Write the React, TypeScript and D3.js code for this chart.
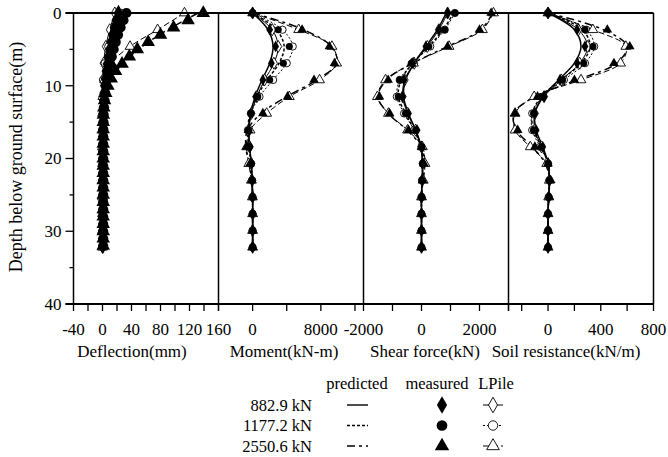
import * as d3 from "d3";

// load cases
const loads = ["882.9 kN", "1177.2 kN", "2550.6 kN"];

// depths (m)
const profileDepth = [0, 2.3, 4.6, 6.9, 9.2, 11.5, 13.8, 16.1, 18.4, 20.7, 23, 25.3, 27.6, 29.9, 32.2];
const gaugeDepth = [0, 1, 2, 3, 4, 5, 6, 7, 8, 9, 10, 11, 12, 13, 14, 15, 16, 17, 18, 19, 20, 21, 22, 23, 24, 25, 26, 27, 28, 29, 30, 31, 32];

// deflection (mm)
const deflPred = [
  [21, 14, 9, 5, 2.5, 1, 0.5, 0.3, 0.2, 0.2, 0.2, 0.2, 0.2, 0.2, 0.2],
  [31, 21, 13, 7, 3.5, 1.5, 0.6, 0.3, 0.2, 0.2, 0.2, 0.2, 0.2, 0.2, 0.2],
  [132, 90, 55, 28, 12, 4.5, 1.5, 0.5, 0.2, 0.2, 0.2, 0.2, 0.2, 0.2, 0.2],
];
const deflLPile = [
  [17, 10, 4.5, 1.5, 0.3, 0, 0, 0, 0, 0, 0, 0, 0, 0, 0],
  [26, 16, 8, 3, 0.8, 0.1, 0, 0, 0, 0, 0, 0, 0, 0, 0],
  [113, 76, 38, 12, 3, 0.5, 0, 0, 0, 0, 0, 0, 0, 0, 0],
];
const deflMeas = [
  [22, 19, 16.5, 14, 12, 10, 8.3, 6.7, 5.3, 4.1, 3.1, 2.3, 1.7, 1.2, 0.9, 0.7, 0.6, 0.5, 0.5, 0.5, 0.5, 0.5, 0.5, 0.5, 0.5, 0.5, 0.5, 0.5, 0.5, 0.5, 0.5, 0.5, 0.5],
  [33, 29, 25, 21.5, 18.3, 15.4, 12.8, 10.5, 8.4, 6.6, 5.1, 3.9, 2.9, 2.2, 1.7, 1.4, 1.2, 1.1, 1, 1, 1, 1, 1, 1, 1, 1, 1, 1, 1, 1, 1, 1, 1],
  [139, 118, 98, 80, 63, 48, 37, 27, 18, 12, 7.5, 4.5, 2.8, 1.8, 1.2, 1, 1, 1, 1, 1, 1, 1, 1, 1, 1, 1, 1, 1, 1, 1, 1, 1, 1],
];

// moment (kN-m)
const momPred = [
  [0, 1800, 2400, 2000, 1100, 300, -250, -450, -350, -150, -50, 0, 0, 0, 0],
  [0, 2800, 3700, 3100, 1700, 500, -300, -550, -400, -180, -60, 0, 0, 0, 0],
  [0, 6000, 9200, 9900, 7500, 4000, 1000, -600, -800, -400, -100, 0, 0, 0, 0],
];
const momLPile = [
  [0, 2300, 3000, 2500, 1400, 500, -150, -400, -350, -150, -50, 0, 0, 0, 0],
  [0, 3500, 4700, 4000, 2400, 800, -200, -550, -450, -200, -60, 0, 0, 0, 0],
  [0, 5400, 9300, 9850, 7850, 4300, 1650, -300, -700, -450, -150, -30, 0, 0, 0],
];
const momMeas = [
  [0, 2000, 2700, 2200, 1200, 350, -200, -400, -300, -100, -50, -30, 0, 0, 0],
  [0, 3000, 4300, 3600, 2000, 600, -200, -500, -400, -150, -50, -30, 0, 0, 0],
  [0, 5800, 9000, 9600, 7200, 4100, 1200, -500, -700, -300, -100, 0, 0, 0, 0],
];

// shear force (kN)
const shearPred = [
  [850, 550, 150, -250, -550, -620, -450, -200, -20, 30, 20, 0, 0, 0, 0],
  [1100, 750, 250, -300, -700, -800, -550, -250, -20, 40, 20, 0, 0, 0, 0],
  [2450, 2050, 900, -300, -1200, -1500, -1150, -500, 0, 100, 50, 0, 0, 0, 0],
];
const shearLPile = [
  [900, 600, 200, -250, -580, -650, -480, -200, 0, 40, 20, 0, 0, 0, 0],
  [1150, 800, 300, -300, -750, -850, -600, -250, 0, 50, 20, 0, 0, 0, 0],
  [2480, 2100, 950, -280, -1240, -1520, -1140, -480, 30, 120, 60, 0, 0, 0, 0],
];
const shearMeas = [
  [900, 600, 150, -300, -600, -650, -450, -150, 0, 30, 20, 10, 0, 0, 0],
  [1150, 800, 250, -350, -750, -800, -550, -200, 0, 40, 20, 10, 0, 0, 0],
  [2400, 2000, 900, -350, -1150, -1450, -1100, -450, 0, 80, 40, 10, 0, 0, 0],
];

// soil resistance (kN/m)
const soilPred = [
  [0, 200, 250, 200, 80, -40, -100, -90, -40, 0, 10, 5, 0, 0, 0],
  [0, 260, 320, 250, 100, -50, -120, -110, -50, 0, 10, 5, 0, 0, 0],
  [0, 420, 600, 520, 220, -100, -260, -240, -120, -20, 10, 5, 0, 0, 0],
];
const soilLPile = [
  [0, 230, 300, 240, 100, -30, -100, -100, -50, 0, 10, 5, 0, 0, 0],
  [0, 290, 350, 280, 120, -40, -120, -120, -60, 0, 10, 5, 0, 0, 0],
  [0, 340, 590, 550, 250, -105, -250, -250, -135, -10, 10, 5, 0, 0, 0],
];
const soilMeas = [
  [0, 220, 280, 220, 90, -30, -100, -90, -40, 0, 10, 5, 0, 0, 0],
  [0, 280, 340, 270, 110, -40, -110, -110, -50, 0, 10, 5, 0, 0, 0],
  [0, 450, 620, 500, 200, -80, -250, -230, -100, 0, 20, 10, 0, 0, 0],
];

// axis ticks
const depthTicks = [0, 5, 10, 15, 20, 25, 30, 35, 40];
const depthLabels = [0, 10, 20, 30, 40];

const panels = [
  { title: "Deflection(mm)", titleX: 132, domain: [-40, 160], ticks: [-40, -20, 0, 20, 40, 60, 80, 100, 120, 140, 160], labels: [-40, 0, 40, 80, 120, 160], pred: deflPred, lpile: deflLPile, meas: deflMeas, measDepth: gaugeDepth },
  { title: "Moment(kN-m)", titleX: 284, domain: [-4000, 13000], ticks: [-4000, 0, 4000, 8000, 12000], labels: [0, 8000], pred: momPred, lpile: momLPile, meas: momMeas, measDepth: profileDepth },
  { title: "Shear force(kN)", titleX: 425, domain: [-2000, 3000], ticks: [-2000, -1000, 0, 1000, 2000, 3000], labels: [-2000, 0, 2000], pred: shearPred, lpile: shearLPile, meas: shearMeas, measDepth: profileDepth },
  { title: "Soil resistance(kN/m)", titleX: 566, domain: [-300, 800], ticks: [-300, -200, 0, 200, 400, 600, 800], labels: [0, 400, 800], pred: soilPred, lpile: soilLPile, meas: soilMeas, measDepth: profileDepth },
];

const W = 668;
const H = 457;
const left = 73.5;
const panelW = 145;
const top = 13;
const bottom = 304;

const predDash = [null, "3,2", "8,4,3,4"];
const lpileDash = [null, "2,2", "6,3"];
const symbols = [d3.symbolDiamond, d3.symbolCircle, d3.symbolTriangle];
const font = '"Liberation Serif", "DejaVu Serif", serif';

const y = d3.scaleLinear().domain([0, 40]).range([top, bottom]);

const marker = (i: number, size: number) => d3.symbol(symbols[i], size)()!;

export default function App() {
  return (
    <svg width={W} height={H} style={{ position: "absolute", left: 0, top: 0, background: "#fff", fontFamily: font }}>
      {panels.map((p, pi) => {
        const x0 = left + pi * panelW;
        const x = d3.scaleLinear().domain(p.domain).range([x0, x0 + panelW]);
        const line = (vals: number[], depths: number[]) =>
          d3.line<number>().x((v) => x(v)).y((_, k) => y(depths[k])).curve(d3.curveCatmullRom)(vals)!;
        return (
          <g key={p.title}>
            {p.pred.map((vals, i) => (
              <path key={"p" + i} d={line(vals, profileDepth)} fill="none" stroke="#000" strokeWidth={1.5} strokeDasharray={predDash[i] ?? undefined} />
            ))}
            {p.lpile.map((vals, i) => (
              <g key={"l" + i}>
                <path d={line(vals, profileDepth)} fill="none" stroke="#000" strokeWidth={1} strokeDasharray={lpileDash[i] ?? undefined} />
                {vals.map((v, k) => (
                  <path key={k} d={marker(i, 42)} transform={`translate(${x(v)},${y(profileDepth[k])})`} fill="#fff" stroke="#000" strokeWidth={0.9} />
                ))}
              </g>
            ))}
            {p.meas.map((vals, i) => (
              <g key={"m" + i}>
                {vals.map((v, k) => (
                  <path key={k} d={marker(i, pi === 0 ? 80 : 40)} transform={`translate(${x(v)},${y(p.measDepth[k])})`} fill="#000" />
                ))}
              </g>
            ))}
            {/* panel frame */}
            <line x1={x0 + panelW} x2={x0 + panelW} y1={top} y2={bottom} stroke="#000" strokeWidth={1.5} />
            {p.ticks.map((t) => (
              <line key={t} x1={x(t)} x2={x(t)} y1={bottom} y2={bottom + 7} stroke="#000" strokeWidth={1.3} />
            ))}
            {p.labels.map((t) => (
              <text key={t} x={x(t)} y={bottom + 31} textAnchor="middle" fontSize={17}>
                {t}
              </text>
            ))}
            <text x={p.titleX} y={bottom + 53} textAnchor="middle" fontSize={17}>
              {p.title}
            </text>
          </g>
        );
      })}

      {/* outer axes */}
      <line x1={left} x2={left} y1={top} y2={bottom} stroke="#000" strokeWidth={1.5} />
      <line x1={left - 8} x2={left + 4 * panelW} y1={top} y2={top} stroke="#000" strokeWidth={1.8} />
      <line x1={left - 8} x2={left + 4 * panelW} y1={bottom} y2={bottom} stroke="#000" strokeWidth={1.8} />
      {depthTicks.map((t) => (
        <line key={t} x1={left - (t % 10 === 0 ? 8 : 4)} x2={left} y1={y(t)} y2={y(t)} stroke="#000" strokeWidth={1.3} />
      ))}
      {depthLabels.map((t) => (
        <text key={t} x={left - 12} y={y(t)} dy="0.35em" textAnchor="end" fontSize={17}>
          {t}
        </text>
      ))}
      <text transform={`translate(22,157) rotate(-90)`} textAnchor="middle" fontSize={18}>
        Depth below ground surface(m)
      </text>

      {/* legend */}
      <g fontSize={16.5}>
        <text x={357} y={389} textAnchor="middle">predicted</text>
        <text x={437} y={389} textAnchor="middle">measured</text>
        <text x={496} y={389} textAnchor="middle">LPile</text>
        {loads.map((name, i) => {
          const ry = 405 + i * 20.5;
          return (
            <g key={name}>
              <text x={312} y={ry} dy="0.35em" textAnchor="end">{name}</text>
              <line x1={347} x2={368} y1={ry} y2={ry} stroke="#000" strokeWidth={1.4} strokeDasharray={predDash[i] ?? undefined} />
              <path d={marker(i, 90)} transform={`translate(442,${ry})`} fill="#000" />
              <line x1={483} x2={503} y1={ry} y2={ry} stroke="#000" strokeWidth={1} strokeDasharray={lpileDash[i] ?? undefined} />
              <path d={marker(i, 70)} transform={`translate(493,${ry})`} fill="#fff" stroke="#000" strokeWidth={0.9} />
            </g>
          );
        })}
      </g>
    </svg>
  );
}
